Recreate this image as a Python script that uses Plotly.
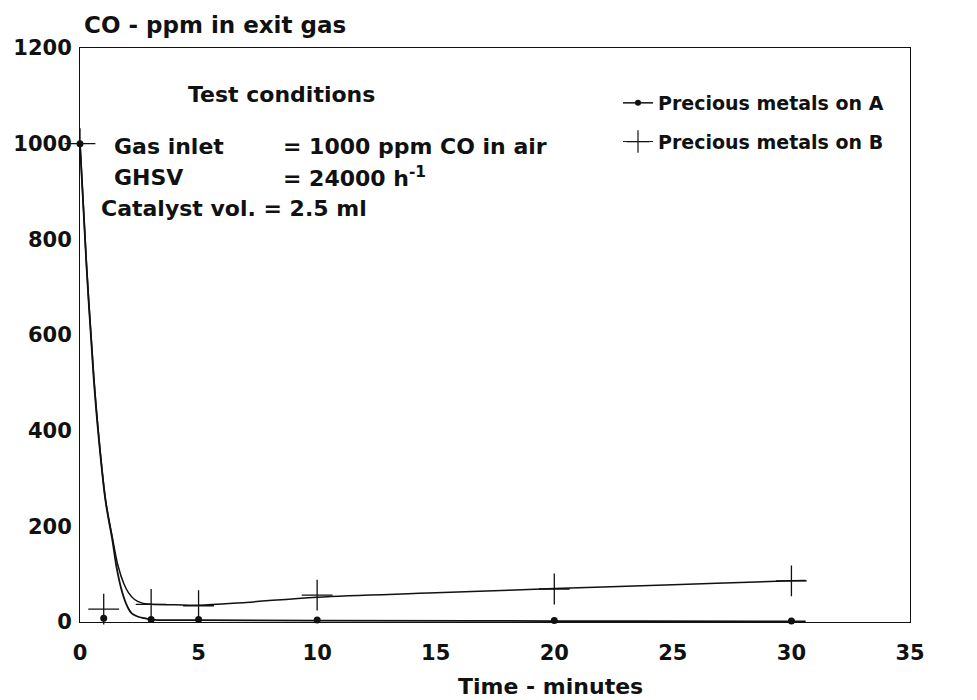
import plotly.graph_objects as go

# ---- data ----
t_points = [0, 1, 3, 5, 10, 20, 30]
co_A = [1000, 8, 5, 5, 4, 3, 2]          # Precious metals on A (dots)
co_B = [1000, 27, 37, 34, 56, 69, 86]    # Precious metals on B (plus)

# hand-drawn fitted curves as they appear in the figure
curve_A_t = [0, 0.27, 0.58, 0.79, 1.08, 1.36, 1.55, 1.78, 2.0, 2.18, 2.45, 2.72, 3.0, 5.0, 10.0, 20.0, 30.0, 30.6]
curve_A_y = [1000, 748, 508, 385, 252, 173, 112, 62, 32, 18, 11, 8, 5, 4, 3, 2, 1, 1]
curve_B_t = [0, 0.27, 0.58, 0.79, 1.08, 1.36, 1.6, 1.85, 2.05, 2.3, 2.6, 3.0, 4.0, 5.0, 7.0, 10.0, 15.0, 20.0, 25.0, 30.0, 30.6]
curve_B_y = [1000, 752, 515, 390, 255, 178, 118, 80, 61, 47, 40, 37, 36, 35, 41, 52, 61, 70, 78, 86, 87]

x_ticks = [0, 5, 10, 15, 20, 25, 30, 35]
y_ticks = [0, 200, 400, 600, 800, 1000, 1200]

legend_names = ["Precious metals on A", "Precious metals on B"]

FONT = "DejaVu Sans"
INK = "#111111"

fig = go.Figure()

# fitted curves
fig.add_trace(go.Scatter(x=curve_B_t, y=curve_B_y, mode="lines",
                         line=dict(color=INK, width=1.5, shape="spline", smoothing=1.0),
                         showlegend=False, hoverinfo="skip"))
fig.add_trace(go.Scatter(x=curve_A_t, y=curve_A_y, mode="lines",
                         line=dict(color=INK, width=1.8, shape="spline", smoothing=1.0),
                         showlegend=False, hoverinfo="skip"))

# measured points
fig.add_trace(go.Scatter(x=t_points, y=co_A, mode="markers",
                         marker=dict(symbol="circle", size=7, color=INK),
                         cliponaxis=False, showlegend=False))
fig.add_trace(go.Scatter(x=t_points, y=co_B, mode="markers",
                         marker=dict(symbol="cross-thin", size=22, color=INK,
                                     line=dict(color=INK, width=1.3)),
                         cliponaxis=False, showlegend=False))

# legend entries
fig.add_trace(go.Scatter(x=[None], y=[None], mode="lines+markers", name=legend_names[0],
                         legendgroup="a",
                         line=dict(color=INK, width=1.5),
                         marker=dict(symbol="circle", size=6, color=INK)))
fig.add_trace(go.Scatter(x=[None], y=[None], mode="lines+markers", name=legend_names[1],
                         legendgroup="b",
                         line=dict(color=INK, width=1),
                         marker=dict(symbol="cross-thin", size=16, color=INK,
                                     line=dict(color=INK, width=1.2))))

# page is offset by the default 8px body margin
OFF = 8
W, H = 977 - OFF, 700 - OFF
L, R, T, B = 80 - OFF, 67, 48 - OFF, 78
pw, ph = W - L - R, H - T - B


def px(xp):
    return (xp - OFF - L) / pw


def py(yp):
    return (H - B - (yp - OFF)) / ph


ann_font = dict(family=FONT, size=22, color=INK, weight="bold")
annotations = [
    dict(text="CO - ppm in exit gas", x=px(82), y=py(25), xanchor="left", yanchor="middle",
         font=dict(family=FONT, size=23, color=INK, weight="bold")),
    dict(text="Time - minutes", x=px(550), y=py(686), xanchor="center", yanchor="middle",
         font=dict(family=FONT, size=22, color=INK, weight="bold")),
    dict(text="Test conditions", x=px(186), y=py(94), xanchor="left", yanchor="middle", font=ann_font),
    dict(text="Gas inlet", x=px(112), y=py(146), xanchor="left", yanchor="middle", font=ann_font),
    dict(text="= 1000 ppm CO in air", x=px(281), y=py(146), xanchor="left", yanchor="middle", font=ann_font),
    dict(text="GHSV", x=px(112), y=py(177), xanchor="left", yanchor="middle", font=ann_font),
    dict(text="= 24000 h<sup>-1</sup>", x=px(281), y=py(177), xanchor="left", yanchor="middle", font=ann_font),
    dict(text="Catalyst vol. = 2.5 ml", x=px(99), y=py(208), xanchor="left", yanchor="middle", font=ann_font),
]
for a in annotations:
    a.update(xref="paper", yref="paper", showarrow=False)

fig.update_layout(
    width=W, height=H,
    margin=dict(l=L, r=R, t=T, b=B, autoexpand=False),
    paper_bgcolor="white", plot_bgcolor="white",
    font=dict(family=FONT, color=INK),
    annotations=annotations,
    showlegend=True,
    legend=dict(x=px(618), y=py(84), xanchor="left", yanchor="top",
                bgcolor="rgba(0,0,0,0)", tracegroupgap=11,
                font=dict(family=FONT, size=19, color=INK, weight="bold")),
    xaxis=dict(range=[0, 35], tickvals=x_ticks, ticktext=[str(v) for v in x_ticks],
               showgrid=False, zeroline=False, showline=True, mirror=True,
               linecolor=INK, linewidth=1, ticks="", ticklabelstandoff=12, automargin=False,
               tickfont=dict(family=FONT, size=21, color=INK, weight="bold")),
    yaxis=dict(range=[0, 1200], tickvals=y_ticks, ticktext=[str(v) for v in y_ticks],
               showgrid=False, zeroline=False, showline=True, mirror=True,
               linecolor=INK, linewidth=1, ticks="", ticklabelstandoff=3, automargin=False,
               tickfont=dict(family=FONT, size=21, color=INK, weight="bold")),
)

fig.write_html("out.html")
